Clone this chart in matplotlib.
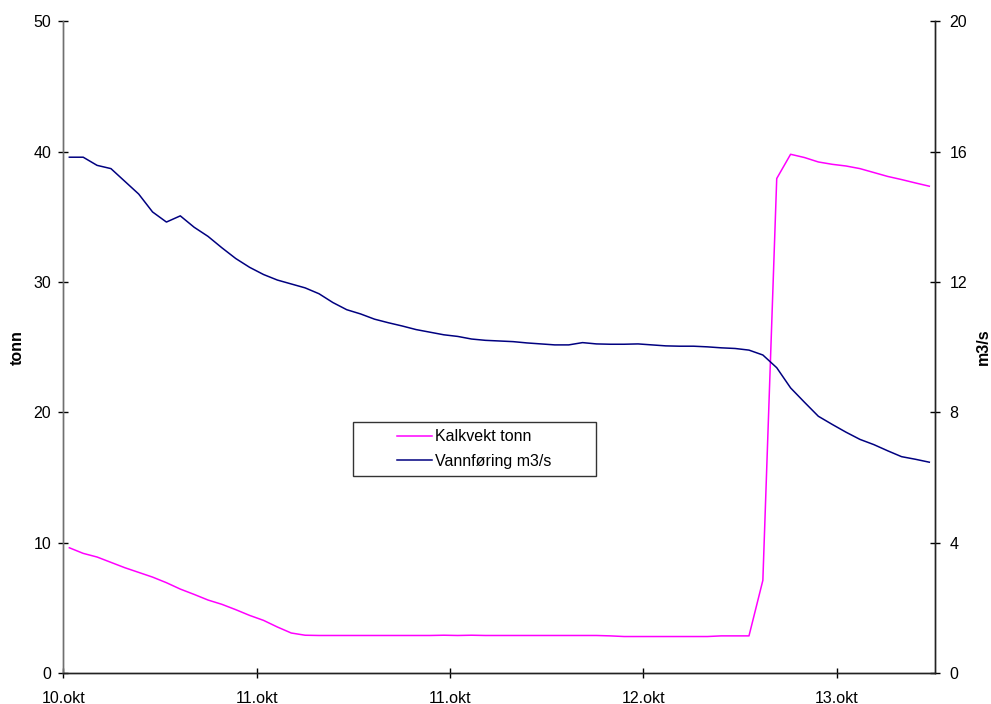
import matplotlib
matplotlib.use('Agg')
import matplotlib.pyplot as plt
from matplotlib.legend_handler import HandlerLine2D
import numpy as np

plt.rcParams['font.family'] = ['Liberation Sans', 'DejaVu Sans']

# Kalkvekt (tonn), left axis
kalkvekt = [9.61, 9.18, 8.90, 8.49, 8.08, 7.72, 7.36, 6.93, 6.44, 6.03,
            5.60, 5.27, 4.86, 4.42, 4.04, 3.53, 3.07, 2.90, 2.88, 2.88,
            2.88, 2.88, 2.88, 2.88, 2.88, 2.88, 2.88, 2.90, 2.88, 2.90,
            2.88, 2.88, 2.88, 2.88, 2.88, 2.88, 2.88, 2.88, 2.88, 2.85,
            2.80, 2.80, 2.80, 2.80, 2.80, 2.80, 2.80, 2.85, 2.85, 2.85,
            7.11, 37.94, 39.80, 39.55, 39.21, 39.03, 38.90, 38.70, 38.40, 38.10,
            37.86, 37.60, 37.35]

# Vannføring (m3/s), right axis
vannforing = [15.83, 15.83, 15.58, 15.48, 15.09, 14.70, 14.15, 13.84, 14.03, 13.68,
              13.40, 13.05, 12.72, 12.45, 12.23, 12.06, 11.94, 11.82, 11.64, 11.37,
              11.15, 11.02, 10.86, 10.75, 10.65, 10.54, 10.46, 10.38, 10.33, 10.25,
              10.21, 10.19, 10.17, 10.13, 10.10, 10.07, 10.07, 10.14, 10.10, 10.09,
              10.09, 10.10, 10.07, 10.04, 10.03, 10.03, 10.01, 9.98, 9.96, 9.91,
              9.76, 9.37, 8.75, 8.31, 7.88, 7.63, 7.39, 7.17, 7.01, 6.82,
              6.64, 6.56, 6.47]

x_labels = ['10.okt', '11.okt', '11.okt', '12.okt', '13.okt']
x_tick_pos = [-0.433, 13.51, 27.45, 41.39, 55.33]

x = np.arange(len(kalkvekt))
fs = 11.5

fig = plt.figure(figsize=(9.91, 7.04), dpi=100)
ax = fig.add_axes([0.0639, 0.044, 0.880, 0.9257])
ax2 = ax.twinx()

l1, = ax.plot(x, kalkvekt, color='#FF00FF', lw=1.1, label='Kalkvekt tonn')
l2, = ax2.plot(x, vannforing, color='#000080', lw=1.1, label='Vannføring m3/s')

ax.set_xlim(-0.433, 62.44)
ax.set_ylim(0, 50)
ax2.set_ylim(0, 20)
ax.set_yticks(range(0, 51, 10))
ax2.set_yticks(range(0, 21, 4))
ax.set_xticks(x_tick_pos)
ax.set_xticklabels(x_labels)

for a in (ax, ax2):
    a.spines['top'].set_visible(False)
    for s in a.spines.values():
        s.set_color('#222222')
        s.set_linewidth(1.0)
    a.tick_params(direction='inout', length=7.5, width=1, labelsize=fs,
                  colors='black', pad=5)
ax.spines['left'].set_color('#707070')
ax2.spines['left'].set_color('#707070')
ax.tick_params(axis='x', pad=9)
ax2.tick_params(axis='y', pad=6.5)

ax.set_ylabel('tonn', fontsize=fs, fontweight='bold', labelpad=6.5)
ax2.set_ylabel('m3/s', fontsize=fs, fontweight='bold', labelpad=6)

leg = ax.legend(handles=[l1, l2], loc='upper left',
                bbox_to_anchor=(0.332, 0.385, 0.279, 0.0), mode='expand',
                fontsize=fs, frameon=True, fancybox=False, edgecolor='black',
                handlelength=4.5, borderpad=0.45, labelspacing=0.6,
                borderaxespad=0, handletextpad=0.2,
                handler_map={l1: HandlerLine2D(xpad=2.3), l2: HandlerLine2D(xpad=2.3)})
leg.get_frame().set_linewidth(1.0)

fig.savefig('out.png', dpi=100)
